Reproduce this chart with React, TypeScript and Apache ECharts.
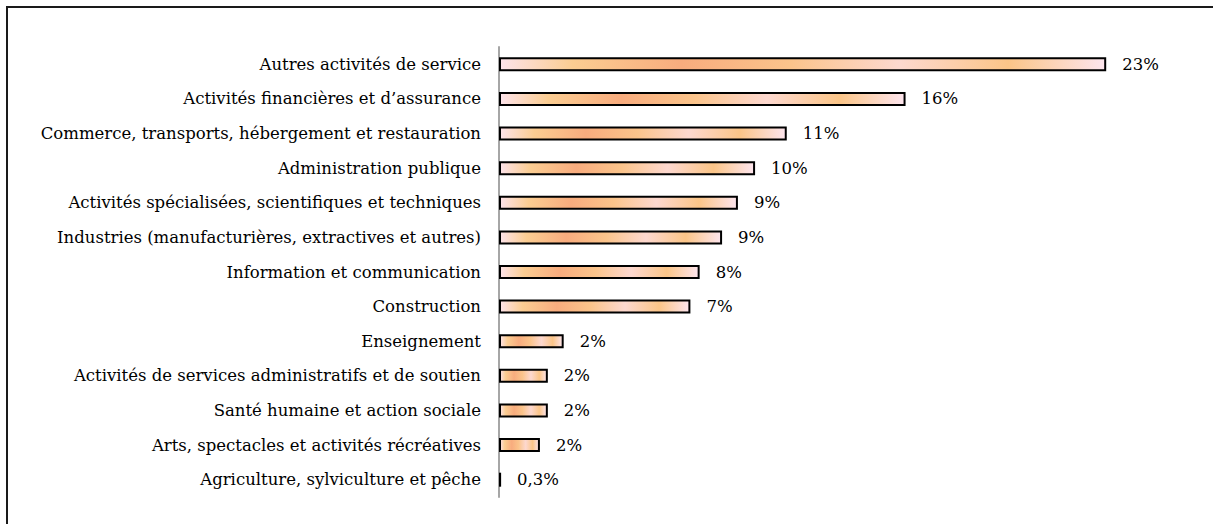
import React, { useEffect, useRef } from "react";
import * as echarts from "echarts";

const categories = [
  "Autres activités de service",
  "Activités financières et d’assurance",
  "Commerce, transports, hébergement et restauration",
  "Administration publique",
  "Activités spécialisées, scientifiques et techniques",
  "Industries (manufacturières, extractives et autres)",
  "Information et communication",
  "Construction",
  "Enseignement",
  "Activités de services administratifs et de soutien",
  "Santé humaine et action sociale",
  "Arts, spectacles et activités récréatives",
  "Agriculture, sylviculture et pêche",
];

const values = [23, 15.4, 10.9, 9.7, 9.05, 8.45, 7.6, 7.25, 2.45, 1.85, 1.85, 1.55, 0.08];

const valueLabels = ["23%", "16%", "11%", "10%", "9%", "9%", "8%", "7%", "2%", "2%", "2%", "2%", "0,3%"];

const FONT = "DejaVu Serif";

export default function App() {
  const ref = useRef<HTMLDivElement>(null);

  useEffect(() => {
    if (!ref.current) return;
    const chart = echarts.init(ref.current, undefined, { renderer: "svg" });
    const fill = new echarts.graphic.LinearGradient(0, 0, 1, 0, [
      { offset: 0, color: "#fde3ea" },
      { offset: 0.12, color: "#fbcd92" },
      { offset: 0.3, color: "#f8ac7e" },
      { offset: 0.48, color: "#fbc48b" },
      { offset: 0.66, color: "#fdd8cf" },
      { offset: 0.84, color: "#fbc588" },
      { offset: 1, color: "#fde5ee" },
    ]);
    chart.setOption({
      animation: false,
      backgroundColor: "#ffffff",
      textStyle: { fontFamily: FONT },
      grid: { left: 499, top: 47, height: 450, width: 660, containLabel: false },
      xAxis: {
        type: "value",
        min: 0,
        max: 25,
        show: false,
      },
      yAxis: {
        type: "category",
        inverse: true,
        data: categories,
        axisLine: { show: true, lineStyle: { color: "#a6a6a6", width: 2 } },
        axisTick: { show: false },
        axisLabel: { color: "#000", fontSize: 16.5, fontFamily: FONT, margin: 18 },
        splitLine: { show: false },
      },
      series: [
        {
          type: "bar",
          data: values,
          barWidth: 14,
          itemStyle: { color: fill, borderColor: "#000", borderWidth: 2 },
          label: {
            show: true,
            position: "right",
            distance: 16,
            color: "#000",
            fontSize: 16.5,
            fontFamily: FONT,
            formatter: (p: any) => valueLabels[p.dataIndex],
          },
        },
      ],
      graphic: [
        {
          type: "rect",
          shape: { x: 7, y: 7, width: 1400, height: 700 },
          style: { fill: "none", stroke: "#1a1a1a", lineWidth: 2 },
          silent: true,
        },
      ],
    });
    return () => chart.dispose();
  }, []);

  return (
    <div
      ref={ref}
      style={{ position: "absolute", left: 0, top: 0, width: 1213, height: 524 }}
    />
  );
}
